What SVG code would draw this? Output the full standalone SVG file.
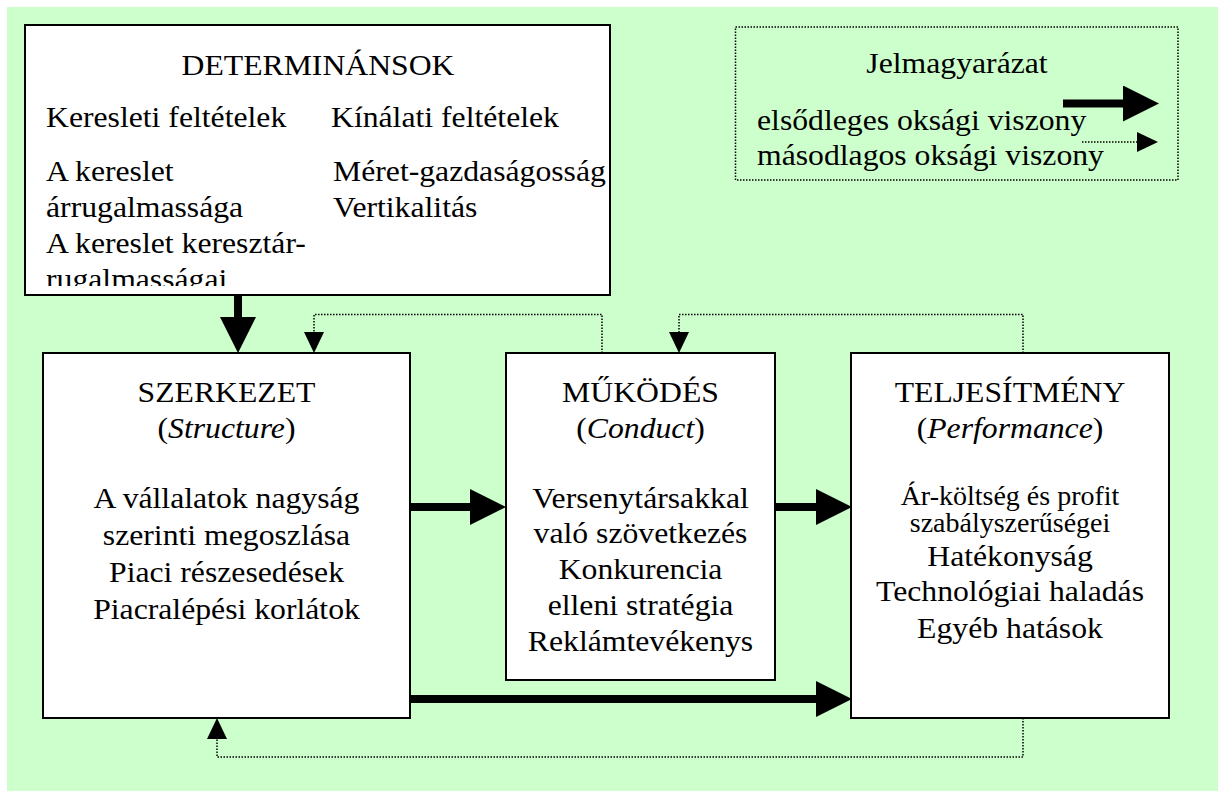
<svg xmlns="http://www.w3.org/2000/svg" width="1218" height="791" viewBox="0 0 1218 791">
<style>
.t{font-family:"Liberation Serif","Times New Roman",serif;font-size:30px;fill:#000}
.s{font-size:26.5px}
.c{text-anchor:middle}
.box{fill:#fff;stroke:#000;stroke-width:2}
.thick{fill:none;stroke:#000;stroke-width:8}
.dot{fill:none;stroke:#000;stroke-width:1.5;stroke-dasharray:1.5 1.5}
</style>
<defs>
<marker id="bigHead" markerUnits="userSpaceOnUse" viewBox="0 0 36 36" refX="0" refY="18" markerWidth="36" markerHeight="36" orient="auto">
<path d="M0,0 L36,18 L0,36 Z" fill="#000"/>
</marker>
<marker id="smallHead" markerUnits="userSpaceOnUse" viewBox="0 0 21 20" refX="0" refY="10" markerWidth="21" markerHeight="20" orient="auto">
<path d="M0,0 L21,10 L0,20 Z" fill="#000"/>
</marker>
<clipPath id="detClip"><rect x="26" y="26" width="583" height="260"/></clipPath>
</defs>
<rect x="0" y="0" width="1218" height="791" fill="#fff"/>
<rect x="7" y="7" width="1211" height="784" fill="#CCFFCC"/>

<g id="determinansok">
<rect class="box" x="25" y="25" width="585" height="270"/>
<g clip-path="url(#detClip)">
<text class="t c" transform="translate(318,75) scale(1.057,1)">DETERMINÁNSOK</text>
<text class="t" transform="translate(46,127) scale(1.057,1)">Keresleti feltételek</text>
<text class="t" transform="translate(331,127) scale(1.057,1)">Kínálati feltételek</text>
<text class="t" transform="translate(46,181) scale(1.057,1)">A kereslet</text>
<text class="t" transform="translate(46,217) scale(1.057,1)">árrugalmassága</text>
<text class="t" transform="translate(46,253) scale(1.057,1)">A kereslet keresztár-</text>
<text class="t" transform="translate(46,289) scale(1.057,1)">rugalmasságai</text>
<text class="t" transform="translate(333,181) scale(1.057,1)">Méret-gazdaságosság</text>
<text class="t" transform="translate(333,217) scale(1.057,1)">Vertikalitás</text>
</g>
</g>

<g id="legend">
<rect x="735.5" y="27" width="442.5" height="153" fill="none" stroke="#000" stroke-width="1.5" stroke-dasharray="1.5 1.5"/>
<text class="t c" transform="translate(957,73) scale(1.057,1)">Jelmagyarázat</text>
<text class="t" transform="translate(757,130) scale(1.057,1)">elsődleges oksági viszony</text>
<text class="t" transform="translate(757,165) scale(1.057,1)">másodlagos oksági viszony</text>
<line class="thick" x1="1063" y1="103.5" x2="1123" y2="103.5" marker-end="url(#bigHead)"/>
<line class="dot" x1="1082" y1="142" x2="1137" y2="142" marker-end="url(#smallHead)"/>
</g>

<g id="szerkezet">
<rect class="box" x="43" y="353" width="367" height="365"/>
<text class="t c" transform="translate(226.5,402) scale(1.057,1)">SZERKEZET</text>
<text class="t c" transform="translate(226.5,438) scale(1.057,1)">(<tspan font-style="italic">Structure</tspan>)</text>
<text class="t c" transform="translate(226.5,508) scale(1.057,1)">A vállalatok nagyság</text>
<text class="t c" transform="translate(226.5,545) scale(1.057,1)">szerinti megoszlása</text>
<text class="t c" transform="translate(226.5,582) scale(1.057,1)">Piaci részesedések</text>
<text class="t c" transform="translate(226.5,619) scale(1.057,1)">Piacralépési korlátok</text>
</g>

<g id="mukodes">
<rect class="box" x="506" y="353" width="269" height="327"/>
<text class="t c" transform="translate(640.5,402) scale(1.057,1)">MŰKÖDÉS</text>
<text class="t c" transform="translate(640.5,438) scale(1.057,1)">(<tspan font-style="italic">Conduct</tspan>)</text>
<text class="t c" transform="translate(640.5,508) scale(1.057,1)">Versenytársakkal</text>
<text class="t c" transform="translate(640.5,543) scale(1.057,1)">való szövetkezés</text>
<text class="t c" transform="translate(640.5,579) scale(1.057,1)">Konkurencia</text>
<text class="t c" transform="translate(640.5,615) scale(1.057,1)">elleni stratégia</text>
<text class="t c" transform="translate(640.5,651) scale(1.057,1)">Reklámtevékenys</text>
</g>

<g id="teljesitmeny">
<rect class="box" x="851" y="353" width="318" height="365"/>
<text class="t c" transform="translate(1010,402) scale(1.057,1)">TELJESÍTMÉNY</text>
<text class="t c" transform="translate(1010,438) scale(1.057,1)">(<tspan font-style="italic">Performance</tspan>)</text>
<text class="t s c" transform="translate(1010,505) scale(1.057,1)">Ár-költség és profit</text>
<text class="t s c" transform="translate(1010,532) scale(1.057,1)">szabályszerűségei</text>
<text class="t c" transform="translate(1010,566) scale(1.057,1)">Hatékonyság</text>
<text class="t c" transform="translate(1010,601) scale(1.057,1)">Technológiai haladás</text>
<text class="t c" transform="translate(1010,638) scale(1.057,1)">Egyéb hatások</text>
</g>

<g id="connectors">
<line class="thick" x1="238" y1="295" x2="238" y2="317" marker-end="url(#bigHead)"/>
<line class="thick" x1="410" y1="507" x2="470" y2="507" marker-end="url(#bigHead)"/>
<line class="thick" x1="775" y1="507" x2="816" y2="507" marker-end="url(#bigHead)"/>
<line class="thick" x1="410" y1="699" x2="816" y2="699" marker-end="url(#bigHead)"/>
<polyline class="dot" points="602,353 602,314.5 314,314.5 314,332" marker-end="url(#smallHead)"/>
<polyline class="dot" points="1023,353 1023,314.5 679,314.5 679,332" marker-end="url(#smallHead)"/>
<polyline class="dot" points="1023,718 1023,757 217,757 217,739" marker-end="url(#smallHead)"/>
</g>
</svg>
